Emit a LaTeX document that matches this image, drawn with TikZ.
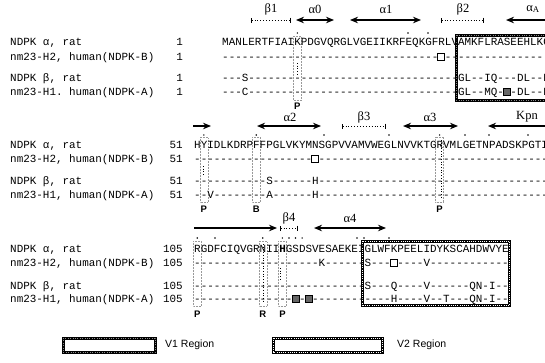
\documentclass[tikz,border=0pt]{standalone}
\usepackage{fontspec}
\setmainfont{Liberation Serif}
\setsansfont{Liberation Sans}
\setmonofont{Liberation Mono}
\usetikzlibrary{arrows.meta}
\newcommand\xa[1]{222+6.55*#1+3.275}
\newcommand\xb[1]{194+6.55*#1+3.275}
\tikzset{
 seq/.style={font=\fontsize{10.92}{12}\selectfont\ttfamily, anchor=base west, inner sep=0pt},
 rnum/.style={font=\fontsize{10.92}{12}\selectfont\ttfamily, anchor=base east, inner sep=0pt},
 sslab/.style={font=\fontsize{12.5}{13}\selectfont, inner sep=0pt},
 site/.style={font=\fontsize{9.5}{10}\selectfont\sffamily\bfseries, inner sep=0pt},
 helix/.style={line width=1.4pt, {Stealth[length=8pt,width=6.5pt]}-{Stealth[length=8pt,width=6.5pt]}},
 rarr/.style={line width=1.4pt, -{Stealth[length=8pt,width=6.5pt]}},
 strand/.style={line width=0.9pt, dotted, {Bar[width=5pt]}-{Bar[width=5pt]}},
 colbox/.style={draw=black!40, densely dotted, line width=0.5pt},
 coldot/.style={draw=black, dotted, line width=0.7pt},
 obox/.style={draw=black, line width=1pt, fill=white, minimum size=7pt, inner sep=0pt},
 fbox/.style={draw=black, line width=1pt, fill=black!60, minimum size=7pt, inner sep=0pt},
 vone/.style={line width=3pt, draw=black},
 vonetex/.style={line width=0.5pt, draw=black!45, dash pattern=on 0.8pt off 1.6pt},
 vtwo/.style={line width=3pt, draw=black},
 vtwotex/.style={line width=1pt, draw=white, dash pattern=on 1pt off 1.2pt},
 legtext/.style={font=\fontsize{10.5}{12}\selectfont\sffamily, anchor=west, inner sep=0pt},
}
\begin{document}
\begin{tikzpicture}[x=1pt,y=-1pt]
\useasboundingbox (0,0) rectangle (545,362);
\clip (0,0) rectangle (545,362);
\fill[white] (0,0) rectangle (545,362);

% ===== Group 1 =====
\draw[colbox] (\xa{11}-4,36) rectangle (\xa{11}+4,100);
\draw[coldot] (\xa{11},63) -- (\xa{11},74);
\draw[vone] (\xa{36}-4.6,35) rectangle (560,100);
\draw[vonetex] (\xa{36}-4.6,35) rectangle (560,100);
\node[seq] (g1l1) at (10,45.5) {NDPK α, rat};
\node[seq] (g1l2) at (10,60.5) {nm23-H2, human(NDPK-B)};
\node[seq] (g1l3) at (10,81.5) {NDPK β, rat};
\node[seq] (g1l4) at (10,95.5) {nm23-H1. human(NDPK-A)};
\node[rnum] (g1n1) at (183,45.5) {1};
\node[rnum] (g1n2) at (183,60.5) {1};
\node[rnum] (g1n3) at (183,81.5) {1};
\node[rnum] (g1n4) at (183,95.5) {1};
\node[seq] (g1s1) at (222,45.5) {MANLERTFIAIKPDGVQRGLVGEIIKRFEQKGFRLVAMKFLRASEEHLKQ};
\node[seq] (g1s2) at (222,60.5) {--------------------------------------------------};
\node[seq] (g1s3) at (222,81.5) {---S--------------------------------GL--IQ---DL--E};
\node[seq] (g1s4) at (222,95.5) {---C--------------------------------GL--MQ---DL--E};
\node[obox] (g1b1) at (\xa{33},57) {};
\node[fbox] (g1b2) at (\xa{43},92) {};
\node[site] (g1p1) at (\xa{11},106) {P};
\fill (\xa{11},33) circle (0.8);
\fill (408,33) circle (0.8);
\fill (428,33) circle (0.8);
\coordinate (b1a) at (251,20); \coordinate (b1b) at (291,20);
\draw[strand] (b1a) -- (b1b);
\node[sslab] (tb1) at (271,9) {β1};
\coordinate (a0a) at (296,20); \coordinate (a0b) at (334,20);
\draw[helix] (a0a) -- (a0b);
\node[sslab] (ta0) at (315,9) {α0};
\coordinate (a1a) at (350,20); \coordinate (a1b) at (421,20);
\draw[helix] (a1a) -- (a1b);
\node[sslab] (ta1) at (386,9) {α1};
\coordinate (b2a) at (441,20); \coordinate (b2b) at (484,20);
\draw[strand] (b2a) -- (b2b);
\node[sslab] (tb2) at (463,9) {β2};
\coordinate (aAa) at (549,20); \coordinate (aAb) at (506,20);
\draw[rarr] (aAa) -- (aAb);
\node[sslab] (taA) at (533,9) {α\textsubscript{A}};

% ===== Group 2 =====
\draw[colbox] (\xb{1}-4,137) rectangle (\xb{1}+4,202);
\draw[coldot] (\xb{1},166) -- (\xb{1},176);
\draw[colbox] (\xb{9}-4,137) rectangle (\xb{9}+4,202);
\draw[colbox] (\xb{37}-4,137) rectangle (\xb{37}+4,202);
\draw[coldot] (\xb{37}+2,140) -- (\xb{37}+2,198);
\node[seq] (g2l1) at (10,148.5) {NDPK α, rat};
\node[seq] (g2l2) at (10,162.5) {nm23-H2, human(NDPK-B)};
\node[seq] (g2l3) at (10,184.5) {NDPK β, rat};
\node[seq] (g2l4) at (10,198.5) {nm23-H1, human(NDPK-A)};
\node[rnum] (g2n1) at (183,148.5) {51};
\node[rnum] (g2n2) at (183,162.5) {51};
\node[rnum] (g2n3) at (183,184.5) {51};
\node[rnum] (g2n4) at (183,198.5) {51};
\node[seq] (g2s1) at (194,148.5) {HYIDLKDRPFFPGLVKYMNSGPVVAMVWEGLNVVKTGRVMLGETNPADSKPGTI};
\node[seq] (g2s2) at (194,162.5) {------------------------------------------------------};
\node[seq] (g2s3) at (194,184.5) {-----------S------H-----------------------------------};
\node[seq] (g2s4) at (194,198.5) {--V--------A------H-----------------------------------};
\node[obox] (g2b1) at (\xb{18},159) {};
\node[site] (g2p1) at (\xb{1},209) {P};
\node[site] (g2p2) at (\xb{9},209) {B};
\node[site] (g2p3) at (\xb{37},209) {P};
\fill (\xb{1},135) circle (0.8);
\fill (\xb{9},135) circle (0.8);
\fill (324,135) circle (0.8);
\fill (389,135) circle (0.8);
\fill (\xb{37},135) circle (0.8);
\fill (465,135) circle (0.8);
\fill (489,135) circle (0.8);
\fill (528,135) circle (0.8);
\coordinate (aAc) at (193,126); \coordinate (aAd) at (211,126);
\draw[rarr] (aAc) -- (aAd);
\coordinate (a2a) at (257,126); \coordinate (a2b) at (321,126);
\draw[helix] (a2a) -- (a2b);
\node[sslab] (ta2) at (290,117) {α2};
\coordinate (b3a) at (342,126); \coordinate (b3b) at (386,126);
\draw[strand] (b3a) -- (b3b);
\node[sslab] (tb3) at (364,117) {β3};
\coordinate (a3a) at (403,126); \coordinate (a3b) at (458,126);
\draw[helix] (a3a) -- (a3b);
\node[sslab] (ta3) at (430,117) {α3};
\coordinate (kpa) at (549,126); \coordinate (kpb) at (488,126);
\draw[rarr] (kpa) -- (kpb);
\node[sslab] (tkp) at (527,117) {Kpn};

% ===== Group 3 =====
\draw[colbox] (\xb{0}-4,241) rectangle (\xb{0}+4,306);
\draw[colbox] (\xb{10}-4,241) rectangle (\xb{10}+4,306);
\draw[coldot] (\xb{10}+1,244) -- (\xb{10}+1,302);
\draw[colbox] (\xb{13}-4,241) rectangle (\xb{13}+4,306);
\draw[coldot] (\xb{13}-2,268) -- (\xb{13}-2,280);
\draw[vtwo] (\xb{26}-4.6,241) rectangle (\xb{47}+4.6,305);
\draw[vtwotex] (\xb{26}-4.6,241) rectangle (\xb{47}+4.6,305);
\node[seq] (g3l1) at (10,252.5) {NDPK α, rat};
\node[seq] (g3l2) at (10,266.5) {nm23-H2, human(NDPK-B)};
\node[seq] (g3l3) at (10,289.5) {NDPK β, rat};
\node[seq] (g3l4) at (10,302.5) {nm23-H1, human(NDPK-A)};
\node[rnum] (g3n1) at (183,252.5) {105};
\node[rnum] (g3n2) at (183,266.5) {105};
\node[rnum] (g3n3) at (183,289.5) {105};
\node[rnum] (g3n4) at (183,302.5) {105};
\node[seq] (g3s1) at (194,252.5) {RGDFCIQVGRNII\textbf{H}GSDSVESAEKEIGLWFKPEELIDYKSCAHDWVYE};
\node[seq] (g3s2) at (194,266.5) {-------------------K------S--------V------------};
\node[seq] (g3s3) at (194,289.5) {--------------------------S---Q----V------QN-I--};
\node[seq] (g3s4) at (194,302.5) {------------------------------H----V--T---QN-I--};
\node[obox] (g3b1) at (\xb{30},263) {};
\node[fbox] (g3b2) at (\xb{15},299) {};
\node[fbox] (g3b3) at (\xb{17},299) {};
\node[site] (g3p1) at (\xb{0},314) {P};
\node[site] (g3p2) at (\xb{10},314) {R};
\node[site] (g3p3) at (\xb{13},314) {P};
\fill (\xb{0},238) circle (0.8);
\fill (215,238) circle (0.8);
\fill (\xb{10},238) circle (0.8);
\fill (\xb{13},238) circle (0.8);
\fill (\xb{14},238) circle (0.8);
\fill (\xb{15},238) circle (0.8);
\fill (\xb{16},238) circle (0.8);
\fill (357,238) circle (0.8);
\fill (364,238) circle (0.8);
\fill (389,238) circle (0.8);
\coordinate (b4s) at (194,228); \coordinate (b4e) at (277,228);
\draw[rarr] (b4s) -- (b4e);
\coordinate (b4a) at (280,228); \coordinate (b4b) at (298,228);
\draw[strand] (b4a) -- (b4b);
\node[sslab] (tb4) at (289,218) {β4};
\coordinate (a4a) at (314,228); \coordinate (a4b) at (386,228);
\draw[helix] (a4a) -- (a4b);
\node[sslab] (ta4) at (350,218) {α4};

% ===== Legend =====
\draw[vone] (63,338) rectangle (155,352);
\draw[vonetex] (63,338) rectangle (155,352);
\node[legtext] (v1) at (165,345) {V1 Region};
\draw[vtwo] (273,338) rectangle (382,352);
\draw[vtwotex] (273,338) rectangle (382,352);
\node[legtext] (v2) at (397,345) {V2 Region};
\end{tikzpicture}
\end{document}
